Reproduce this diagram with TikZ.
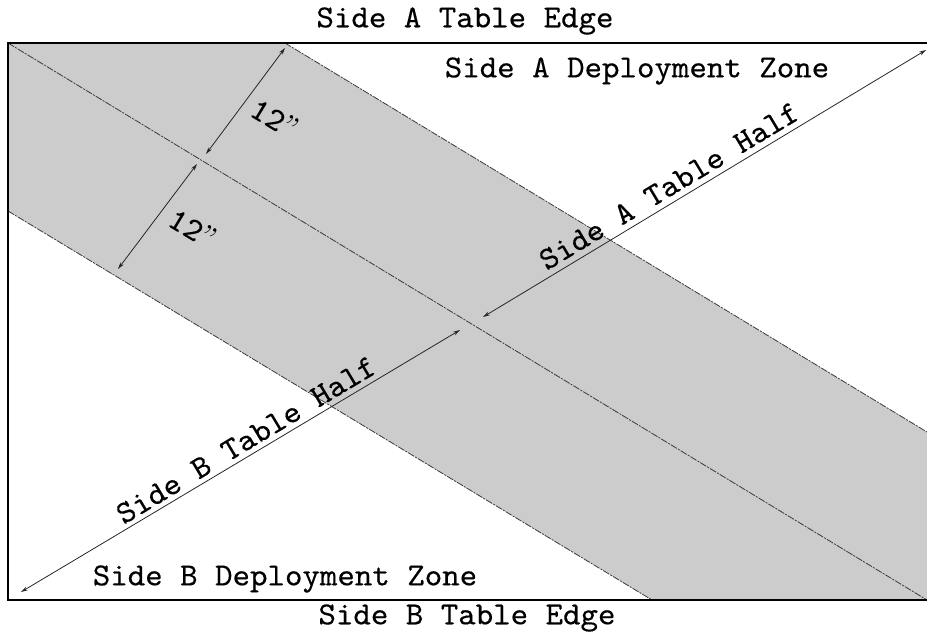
\documentclass[tikz,border=0pt]{standalone}
\usepackage{fontspec}
\usetikzlibrary{arrows.meta}
\newfontfamily\twfont{lmmono10-regular.otf}[FakeBold=0.35, FakeStretch=1.04]
\newfontfamily\qfont{lmroman10-regular.otf}
\definecolor{bandgrey}{HTML}{CCCCCC}
\definecolor{edgegrey}{HTML}{3A3A3A}
\tikzset{
  lbl/.style={font=\twfont\fontsize{32}{36}\selectfont, inner sep=0pt},
  bandedge/.style={draw=edgegrey, line width=0.8pt, dash pattern=on 7pt off 1.2pt on 2pt off 1.2pt},
  dimarrow/.style={draw=black!85, line width=0.8pt, {Stealth[length=7pt,width=4pt]}-{Stealth[length=7pt,width=4pt]}},
  tableedge/.style={draw=black, line width=1.6pt}
}
\begin{document}
\begin{tikzpicture}[x=1pt,y=-1pt]
\useasboundingbox (0,0) rectangle (927,635);
% corners and band points
\coordinate (tl) at (8,43);
\coordinate (tr) at (927,43);
\coordinate (bl) at (8,600);
\coordinate (br) at (927,600);
\coordinate (ut) at (285,43);
\coordinate (ur) at (927,432);
\coordinate (lb) at (652,600);
\coordinate (ll) at (8,211);
% grey band
\fill[bandgrey] (tl) -- (ut) -- (ur) -- (br) -- (lb) -- (ll) -- cycle;
% band edges and centre line
\draw[bandedge] (ut) -- (ur);
\draw[bandedge] (tl) -- (br);
\draw[bandedge] (ll) -- (lb);
% table edges
\draw[tableedge] (tr) -- (tl) -- (bl) -- (br);
% table half arrows
\coordinate (a1) at (483,317);
\coordinate (a2) at (926,50);
\coordinate (b1) at (460,330);
\coordinate (b2) at (21,592);
\draw[dimarrow] (a1) -- (a2);
\draw[dimarrow] (b1) -- (b2);
% 12 inch arrows
\coordinate (d1) at (285,48);
\coordinate (d2) at (206,154);
\coordinate (d3) at (197,164);
\coordinate (d4) at (118,269);
\draw[dimarrow] (d1) -- (d2);
\draw[dimarrow] (d3) -- (d4);
% labels
\node[lbl] (sate) at (465,21) {Side A Table Edge};
\node[lbl] (sadz) at (637,71) {Side A Deployment Zone};
\node[lbl] (sbdz) at (285,579) {Side B Deployment Zone};
\node[lbl] (sbte) at (467,618) {Side B Table Edge};
\node[lbl, rotate=31] (sath) at (669,186) {Side A Table Half};
\node[lbl, rotate=31] (sbth) at (246,440) {Side B Table Half};
\node[lbl, rotate=-31] (tw1) at (275,118) {12{\qfont ”}};
\node[lbl, rotate=-31] (tw2) at (193,228) {12{\qfont ”}};
\end{tikzpicture}
\end{document}
